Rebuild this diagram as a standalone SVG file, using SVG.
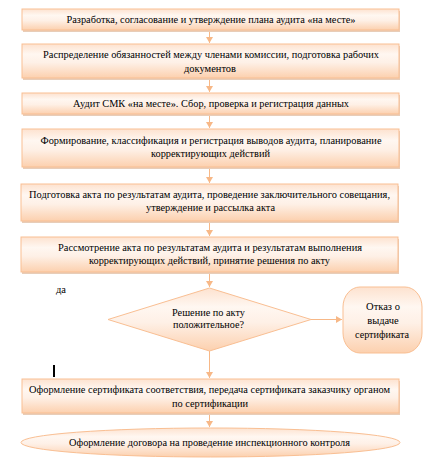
<svg xmlns="http://www.w3.org/2000/svg" width="438" height="460" viewBox="0 0 438 460">
<defs>
<linearGradient id="g" x1="0" y1="0" x2="0" y2="1">
<stop offset="0" stop-color="#fde2cf"/>
<stop offset="0.3" stop-color="#fff7f1"/>
<stop offset="0.55" stop-color="#fef0e6"/>
<stop offset="1" stop-color="#fcd0ae"/>
</linearGradient>
<marker id="ah" markerWidth="8" markerHeight="8" refX="6" refY="4" orient="auto" markerUnits="userSpaceOnUse">
<path d="M0,0.5 L6,4 L0,7.5 Z" fill="#f7b887"/>
</marker>
<style>
.n{fill:url(#g);stroke:#f9bf93;stroke-width:1}
.s{fill:#e8cdb8;stroke:none}
.t{font-family:'Liberation Serif','DejaVu Serif',serif;font-size:10.5px;fill:#000;text-anchor:middle}
.c{stroke:#f7b887;stroke-width:1;fill:none;marker-end:url(#ah)}
</style>
</defs>
<g id="connectors">
<line class="c" x1="209.5" y1="30" x2="209.5" y2="43"/>
<line class="c" x1="209.5" y1="78" x2="209.5" y2="92"/>
<line class="c" x1="209.5" y1="114" x2="209.5" y2="128"/>
<line class="c" x1="209.5" y1="167" x2="209.5" y2="183"/>
<line class="c" x1="209.5" y1="221" x2="209.5" y2="236"/>
<line class="c" x1="209.5" y1="272" x2="209.5" y2="287"/>
<line class="c" x1="311" y1="319.5" x2="342" y2="319.5"/>
<line class="c" x1="209.5" y1="351" x2="209.5" y2="378"/>
<line class="c" x1="209.5" y1="413" x2="209.5" y2="427"/>
</g>
<g id="n1"><rect class="s" x="23" y="11" width="377" height="21"/><rect class="n" x="22" y="9" width="377" height="21"/>
<text class="t" x="211" y="23" textLength="289" lengthAdjust="spacingAndGlyphs">Разработка, согласование и утверждение плана аудита «на месте»</text></g>
<g id="n2"><rect class="s" x="23" y="46" width="377" height="34"/><rect class="n" x="22" y="44" width="377" height="34"/>
<text class="t" x="211" y="58" textLength="336" lengthAdjust="spacingAndGlyphs">Распределение обязанностей между членами комиссии, подготовка рабочих</text>
<text class="t" x="210" y="72" textLength="52" lengthAdjust="spacingAndGlyphs">документов</text></g>
<g id="n3"><rect class="s" x="23" y="95" width="377" height="21"/><rect class="n" x="22" y="93" width="377" height="21"/>
<text class="t" x="211" y="107" textLength="276" lengthAdjust="spacingAndGlyphs">Аудит СМК «на месте». Сбор, проверка и регистрация данных</text></g>
<g id="n4"><rect class="s" x="23" y="131" width="377" height="38"/><rect class="n" x="22" y="129" width="377" height="38"/>
<text class="t" x="211" y="144" textLength="341" lengthAdjust="spacingAndGlyphs">Формирование, классификация и регистрация выводов аудита, планирование</text>
<text class="t" x="210.5" y="157" textLength="119" lengthAdjust="spacingAndGlyphs">корректирующих действий</text></g>
<g id="n5"><rect class="s" x="22" y="186" width="377" height="37"/><rect class="n" x="21" y="184" width="377" height="37"/>
<text class="t" x="209.5" y="198" textLength="361" lengthAdjust="spacingAndGlyphs">Подготовка акта по результатам аудита, проведение заключительного совещания,</text>
<text class="t" x="210.5" y="211" textLength="129" lengthAdjust="spacingAndGlyphs">утверждение и рассылка акта</text></g>
<g id="n6"><rect class="s" x="22" y="239" width="377" height="35"/><rect class="n" x="21" y="237" width="377" height="35"/>
<text class="t" x="210" y="251" textLength="304" lengthAdjust="spacingAndGlyphs">Рассмотрение акта по результатам аудита и результатам выполнения</text>
<text class="t" x="209.5" y="264" textLength="241" lengthAdjust="spacingAndGlyphs">корректирующих действий, принятие решения по акту</text></g>
<g id="n7"><polygon class="n" points="209.5,288 311,319.5 209.5,351 108,319.5"/>
<text class="t" x="208.5" y="316" textLength="73" lengthAdjust="spacingAndGlyphs">Решение по акту</text>
<text class="t" x="208.5" y="328" textLength="71" lengthAdjust="spacingAndGlyphs">положительное?</text></g>
<g id="n8"><rect class="n" x="343" y="287" width="79" height="66" rx="17" ry="20"/>
<text class="t" x="383" y="310">Отказ о</text>
<text class="t" x="383" y="324">выдаче</text>
<text class="t" x="382" y="338" textLength="54" lengthAdjust="spacingAndGlyphs">сертификата</text></g>
<g id="n9"><rect class="s" x="23" y="381" width="377" height="34"/><rect class="n" x="22" y="379" width="377" height="34"/>
<text class="t" x="209.5" y="393" textLength="361" lengthAdjust="spacingAndGlyphs">Оформление сертификата соответствия, передача сертификата заказчику органом</text>
<text class="t" x="210" y="407" textLength="76" lengthAdjust="spacingAndGlyphs">по сертификации</text></g>
<g id="n10"><ellipse class="n" cx="210.5" cy="442.5" rx="189.5" ry="14.5"/>
<text class="t" x="209.5" y="446" textLength="281" lengthAdjust="spacingAndGlyphs">Оформление договора на проведение инспекционного контроля</text></g>
<text class="t" x="61" y="293">да</text>
<rect x="53" y="365" width="2" height="12" fill="#000"/>
</svg>
